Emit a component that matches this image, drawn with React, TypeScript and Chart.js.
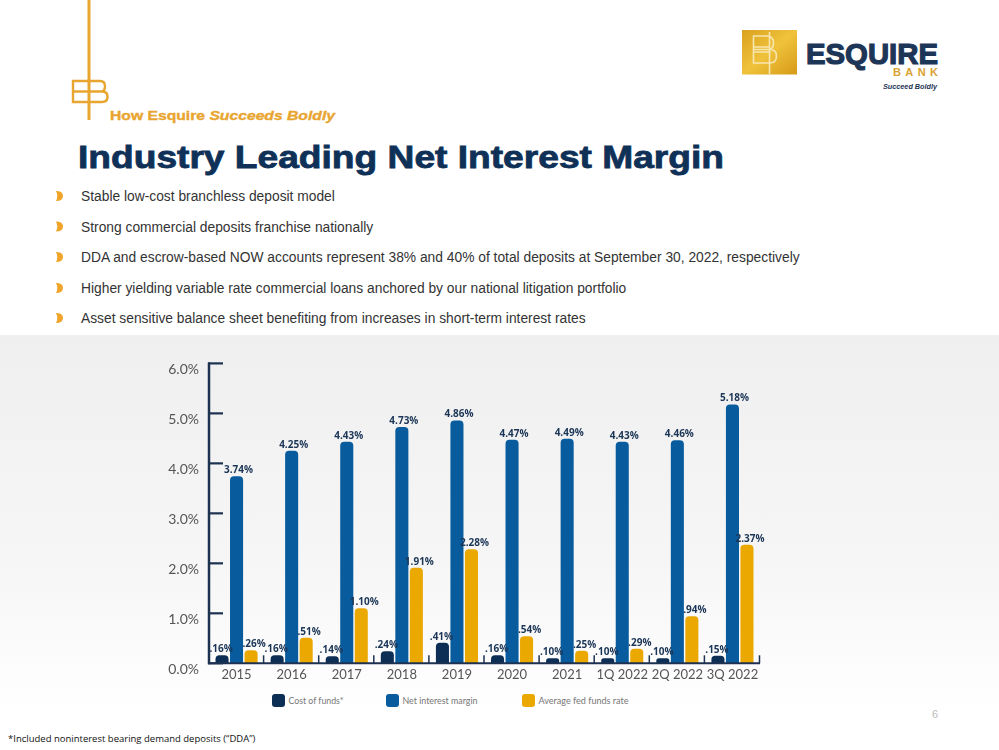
import React, { useEffect, useRef } from "react";
import { Chart, registerables } from "chart.js";

Chart.register(...registerables);

const categories = ["2015", "2016", "2017", "2018", "2019", "2020", "2021", "1Q 2022", "2Q 2022", "3Q 2022"];
const costOfFunds = [0.16, 0.16, 0.14, 0.24, 0.41, 0.16, 0.1, 0.1, 0.1, 0.15];
const netInterestMargin = [3.74, 4.25, 4.43, 4.73, 4.86, 4.47, 4.49, 4.43, 4.46, 5.18];
const avgFedFunds = [0.26, 0.51, 1.1, 1.91, 2.28, 0.54, 0.25, 0.29, 0.94, 2.37];
const yTicks = [0, 1, 2, 3, 4, 5, 6];
const seriesNames = ["Cost of funds*", "Net interest margin", "Average fed funds rate"];
const bullets = [
  "Stable low-cost branchless deposit model",
  "Strong commercial deposits franchise nationally",
  "DDA and escrow-based NOW accounts represent 38% and 40% of total deposits at September 30, 2022, respectively",
  "Higher yielding variable rate commercial loans anchored by our national litigation portfolio",
  "Asset sensitive balance sheet benefiting from increases in short-term interest rates",
];

const NAVY = "#0f3158";
const GOLD = "#e8a530";
const COLORS = ["#0e2f55", "#085c9e", "#eaa800"];
const AXIS = "#1d3150";
const LABEL_SHIFT = [-1, 2, 3];

const fmt = (v: number) => (v < 1 ? "." + v.toFixed(2).slice(2) + "%" : v.toFixed(2) + "%");

const decorPlugin = {
  id: "decor",
  afterDatasetsDraw(chart: any) {
    const ctx = chart.ctx;
    const { left, right, bottom } = chart.chartArea;
    const ys = chart.scales.y;
    ctx.save();
    ctx.strokeStyle = AXIS;
    ctx.lineCap = "butt";
    ctx.lineWidth = 2.5;
    ctx.beginPath();
    ctx.moveTo(left, ys.getPixelForValue(yTicks[yTicks.length - 1]) - 1);
    ctx.lineTo(left, bottom + 1);
    ctx.stroke();
    ctx.lineWidth = 2.2;
    yTicks.forEach((v) => {
      const py = ys.getPixelForValue(v);
      ctx.beginPath();
      ctx.moveTo(left - 1, py);
      ctx.lineTo(left + 14, py);
      ctx.stroke();
    });
    ctx.lineWidth = 2;
    ctx.beginPath();
    ctx.moveTo(left, bottom);
    ctx.lineTo(right, bottom);
    ctx.stroke();
    ctx.lineWidth = 1.5;
    const n = categories.length;
    for (let i = 1; i <= n; i++) {
      const px = left + ((right - left) * i) / n - 0.5;
      ctx.beginPath();
      ctx.moveTo(px, bottom);
      ctx.lineTo(px, bottom - 8);
      ctx.stroke();
    }
    ctx.fillStyle = "#1b3556";
    ctx.font = "bold 10px 'Open Sans', Lato, sans-serif";
    ctx.textAlign = "center";
    ctx.textBaseline = "alphabetic";
    chart.data.datasets.forEach((ds: any, di: number) => {
      const meta = chart.getDatasetMeta(di);
      meta.data.forEach((bar: any, i: number) => {
        ctx.fillText(fmt(ds.data[i]), bar.x + LABEL_SHIFT[di], bar.y - 3);
      });
    });
    ctx.restore();
  },
};

function EBMark({ stroke, sw }: { stroke: string; sw: number }) {
  return (
    <path
      d="M100,81 L73,81 L73,102 L102,102 Q107.5,102 107.5,96.7 Q107.5,91.5 102,91.5 L73,91.5 M101,91.5 Q105,91.5 105,86.2 Q105,81 100,81"
      fill="none"
      stroke={stroke}
      strokeWidth={sw}
    />
  );
}

export default function App() {
  const ref = useRef<HTMLCanvasElement>(null);

  useEffect(() => {
    if (!ref.current) return;
    const chart = new Chart(ref.current, {
      type: "bar",
      data: {
        labels: categories,
        datasets: [
          { label: seriesNames[0], data: costOfFunds, backgroundColor: COLORS[0] },
          { label: seriesNames[1], data: netInterestMargin, backgroundColor: COLORS[1] },
          { label: seriesNames[2], data: avgFedFunds, backgroundColor: COLORS[2] },
        ].map((d) => ({
          ...d,
          barPercentage: 0.9,
          categoryPercentage: 0.79,
          borderRadius: 4,
          borderSkipped: "start" as const,
        })),
      },
      options: {
        animation: false,
        responsive: false,
        layout: { padding: { top: 18.3, right: 20, left: 0, bottom: 0 } },
        plugins: { legend: { display: false }, tooltip: { enabled: false } },
        scales: {
          x: {
            grid: { display: false, drawTicks: false },
            border: { display: false },
            ticks: {
              color: "#555",
              font: { family: "Lato, 'Open Sans', sans-serif", size: 13 },
              padding: 4,
              maxRotation: 0,
              autoSkip: false,
            },
            afterFit: (s: any) => {
              s.height = 26.7;
            },
          },
          y: {
            min: 0,
            max: 6,
            grid: { display: false, drawTicks: false },
            border: { display: false },
            afterBuildTicks: (s: any) => {
              s.ticks = yTicks.map((v) => ({ value: v }));
            },
            ticks: {
              color: "#555",
              font: { family: "Lato, 'Open Sans', sans-serif", size: 14 },
              padding: 10,
              labelOffset: 6,
              callback: (v: any) => Number(v).toFixed(1) + "%",
            },
            afterFit: (s: any) => {
              s.width = 79;
            },
          },
        },
      },
      plugins: [decorPlugin],
    });
    return () => chart.destroy();
  }, []);

  const bulletY = [196, 226.5, 257, 288, 318];
  const legendX = [272, 386, 522];
  const legendW = [55, 75, 90];

  return (
    <div
      style={{
        position: "absolute",
        left: 0,
        top: 0,
        width: 999,
        height: 750,
        overflow: "hidden",
        background: "#ffffff",
      }}
    >
      <div
        style={{
          position: "absolute",
          left: 0,
          top: 335,
          width: 999,
          height: 380,
          background: "linear-gradient(#efefef 0%, #f6f6f6 60%, #ffffff 100%)",
        }}
      />
      <svg
        width={999}
        height={750}
        style={{ position: "absolute", left: 0, top: 0 }}
        fontFamily="'Liberation Sans', Arial, sans-serif"
      >
        <rect x={87.5} y={0} width={3} height={120} fill={GOLD} />
        <EBMark stroke={GOLD} sw={2.4} />
        <text
          x={110}
          y={119.5}
          fontSize={12.5}
          fontWeight="bold"
          fill={GOLD}
          stroke={GOLD}
          strokeWidth={0.35}
          textLength={225}
          lengthAdjust="spacingAndGlyphs"
        >
          How Esquire <tspan fontStyle="italic">Succeeds Boldly</tspan>
        </text>

        <defs>
          <linearGradient id="gold" x1="0" y1="0" x2="1" y2="1">
            <stop offset="0%" stopColor="#d9a21e" />
            <stop offset="50%" stopColor="#f0c23c" />
            <stop offset="100%" stopColor="#d59a18" />
          </linearGradient>
        </defs>
        <rect x={742} y={30} width={55} height={44.5} fill="url(#gold)" />
        <g transform="translate(740.5,-32)">
          <path
            d="M26,68 L13,68 L13,95 L29,95 Q36,95 36,88 Q36,81.5 29,81.5 L13,81.5 M28,81.5 Q33,81.5 33,75 Q33,68 26,68 M13,79 L29,79 M13,84 L30,84"
            fill="none"
            stroke="#f7e6b0"
            strokeWidth={1.6}
          />
          <line x1={29} y1={64} x2={29} y2={106} stroke="#f7e6b0" strokeWidth={1.6} />
        </g>
        <text
          x={806}
          y={63.5}
          fontSize={30}
          fontWeight="bold"
          fill="#1d3557"
          stroke="#1d3557"
          strokeWidth={1.2}
          textLength={132}
          lengthAdjust="spacingAndGlyphs"
        >
          ESQUIRE
        </text>
        <text
          x={893}
          y={75.5}
          fontSize={11}
          fontWeight="bold"
          fill="#d9a232"
          textLength={45}
          lengthAdjust="spacing"
        >
          BANK
        </text>
        <text
          x={883}
          y={88.5}
          fontSize={8}
          fontWeight="bold"
          fontStyle="italic"
          fill="#1d3557"
          textLength={54}
          lengthAdjust="spacingAndGlyphs"
        >
          Succeed Boldly
        </text>

        <text
          x={78}
          y={168.3}
          fontSize={31}
          fontWeight="bold"
          fill={NAVY}
          stroke={NAVY}
          strokeWidth={0.8}
          textLength={646}
          lengthAdjust="spacingAndGlyphs"
        >
          Industry Leading Net Interest Margin
        </text>

        {bullets.map((b, i) => (
          <g key={i}>
            <path
              d={`M56,${bulletY[i] - 5} Q63,${bulletY[i] - 5} 63,${bulletY[i]} Q63,${bulletY[i] + 5} 56,${
                bulletY[i] + 5
              } Q58.5,${bulletY[i]} 56,${bulletY[i] - 5} Z`}
              fill="#f0a52a"
            />
            <text x={81} y={bulletY[i] + 5} fontSize={13.8} fill="#333333">
              {b}
            </text>
          </g>
        ))}

        {seriesNames.map((s, i) => (
          <g key={s}>
            <rect x={legendX[i]} y={694} width={13} height={13} rx={3} fill={COLORS[i]} />
            <text
              x={legendX[i] + 16.5}
              y={704}
              fontSize={9}
              fill="#777777"
              fontFamily="Lato, 'Open Sans', sans-serif"
              textLength={legendW[i]}
              lengthAdjust="spacingAndGlyphs"
            >
              {s}
            </text>
          </g>
        ))}

        <text x={935} y={718} fontSize={11} fill="#bbbbbb" textAnchor="middle">
          6
        </text>

        <text x={8} y={742} fontSize={9.5} fill="#111111" fontFamily="'Open Sans', 'Liberation Sans', sans-serif">
          *Included noninterest bearing demand deposits (“DDA”)
        </text>
      </svg>
      <canvas
        ref={ref}
        width={650}
        height={345}
        style={{ position: "absolute", left: 130, top: 345, width: 650, height: 345 }}
      />
    </div>
  );
}
